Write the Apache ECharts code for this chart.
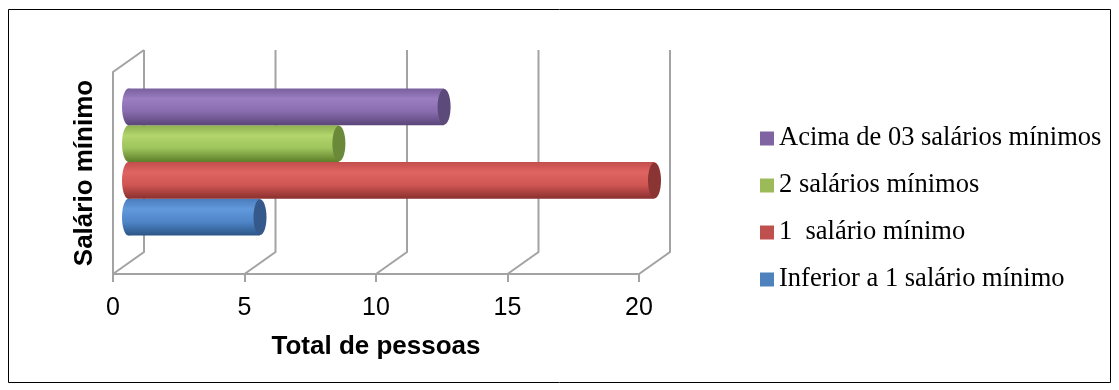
<!DOCTYPE html>
<html>
<head>
<meta charset="utf-8">
<script src="https://cdn.jsdelivr.net/npm/echarts@6/dist/echarts.min.js"></script>
<style>
  html, body { margin: 0; padding: 0; background: #fff; }
  #chart { width: 1119px; height: 390px; }
</style>
</head>
<body>
<div id="chart"></div>
<script>
// Income brackets (bottom to top) and number of people in each
const groups = ['Inferior a 1 salário mínimo', '1  salário mínimo', '2 salários mínimos', 'Acima de 03 salários mínimos'];
const totals = [5, 20, 8, 12];
const xTicks = [0, 5, 10, 15, 20];
const legendOrder = ['Acima de 03 salários mínimos', '2 salários mínimos', '1  salário mínimo', 'Inferior a 1 salário mínimo'];

// Flat colours (legend keys) and cylinder shading per bracket
const keyColors = ['#4f81bd', '#c0504d', '#9bbb59', '#8064a2'];
const bodyShades = [
  ['#4a7cbc', '#6199dc', '#4f86c9', '#2c5586'],
  ['#c24e4b', '#df6462', '#cf5653', '#8a2f2e'],
  ['#8fb050', '#b2d56c', '#9ec45c', '#5e7e2a'],
  ['#795f9c', '#9a7ec1', '#8a6db0', '#5a4578']
];
const capColors = ['#34598a', '#8a3533', '#6a8a3a', '#5c4a7a'];

// Perspective offset between the front and back planes of the 3D box
const DX = 31, DY = 22;
const CAP_RX = 6.5;
const GROUP_FRACTION = 0.728;

const chart = echarts.init(document.getElementById('chart'));

function wallItem(params, api) {
  const v = api.value(0);
  const p = api.coord([v, 0]);
  const band = api.size([0, 1])[1];
  const floor = p[1] + band / 2;
  const top = p[1] - band / 2;
  const st = { stroke: '#a3a3a3', lineWidth: 2, fill: null };
  const children = [{
    type: 'polyline',
    shape: { points: [[p[0], floor], [p[0] + DX, floor - DY], [p[0] + DX, top - DY]] },
    style: st
  }];
  if (v === xTicks[0]) {
    children.push({
      type: 'polyline',
      shape: { points: [[p[0], floor], [p[0], top], [p[0] + DX, top - DY]] },
      style: st
    });
  }
  return { type: 'group', children };
}

function cylinderItem(idx) {
  return function (params, api) {
    const v = api.value(0);
    const base = api.coord([0, 0]);
    const end = api.coord([v, 0]);
    const band = api.size([0, 1])[1];
    const groupH = band * GROUP_FRACTION;
    const barH = groupH / groups.length;
    const yTop = base[1] + groupH / 2 - (idx + 1) * barH - DY / 2;
    const x0 = base[0] + DX / 2;
    const x1 = end[0] + DX / 2;
    const ry = barH / 2;
    const s = bodyShades[idx];
    const grad = new echarts.graphic.LinearGradient(0, 0, 0, 1, [
      { offset: 0, color: s[0] },
      { offset: 0.28, color: s[1] },
      { offset: 0.62, color: s[2] },
      { offset: 1, color: s[3] }
    ]);
    return {
      type: 'group',
      children: [
        { type: 'ellipse', shape: { cx: x0, cy: yTop + ry, rx: CAP_RX, ry }, style: { fill: grad } },
        { type: 'rect', shape: { x: x0, y: yTop, width: x1 - x0, height: barH }, style: { fill: grad } },
        { type: 'ellipse', shape: { cx: x1, cy: yTop + ry, rx: CAP_RX, ry: ry - 0.5 }, style: { fill: capColors[idx] } }
      ]
    };
  };
}

const series = [{
  type: 'custom',
  name: 'walls',
  z: 1,
  silent: true,
  renderItem: wallItem,
  encode: { x: 0, y: 1 },
  data: xTicks.map(t => [t, 0])
}];
groups.forEach((g, i) => {
  series.push({
    type: 'custom',
    name: g,
    z: 2,
    itemStyle: { color: keyColors[i] },
    renderItem: cylinderItem(i),
    encode: { x: 0, y: 1 },
    data: [[totals[i], 0]]
  });
});

chart.setOption({
  animation: false,
  backgroundColor: '#fff',
  grid: { left: 113, top: 72, width: 526, height: 202 },
  xAxis: {
    type: 'value',
    min: 0, max: 20, interval: 5,
    axisLine: { show: true, lineStyle: { color: '#a3a3a3', width: 2 } },
    axisTick: { show: true, length: 8, lineStyle: { color: '#a3a3a3', width: 2 } },
    axisLabel: { fontFamily: 'Liberation Sans', fontSize: 25, color: '#000', margin: 22 },
    splitLine: { show: false },
    name: 'Total de pessoas',
    nameLocation: 'middle',
    nameGap: 60,
    nameTextStyle: { fontFamily: 'Liberation Sans', fontSize: 26, fontWeight: 'bold', color: '#000' }
  },
  yAxis: {
    type: 'category',
    data: ['Salário mínimo'],
    axisLine: { show: false },
    axisTick: { show: false },
    axisLabel: { show: false },
    name: 'Salário mínimo',
    nameLocation: 'middle',
    nameGap: 15,
    nameTextStyle: { fontFamily: 'Liberation Sans', fontSize: 26, fontWeight: 'bold', color: '#000' }
  },
  legend: {
    orient: 'vertical',
    left: 760,
    top: 125,
    padding: 0,
    icon: 'rect',
    itemWidth: 14,
    itemHeight: 14,
    itemGap: 20,
    data: legendOrder,
    textStyle: { fontFamily: 'Liberation Serif', fontSize: 26.5, lineHeight: 26, color: '#000' }
  },
  graphic: [{
    type: 'rect',
    silent: true,
    shape: { x: 8.5, y: 9.5, width: 1102, height: 373 },
    style: { fill: null, stroke: '#000', lineWidth: 1 }
  }],
  series
});
</script>
</body>
</html>
